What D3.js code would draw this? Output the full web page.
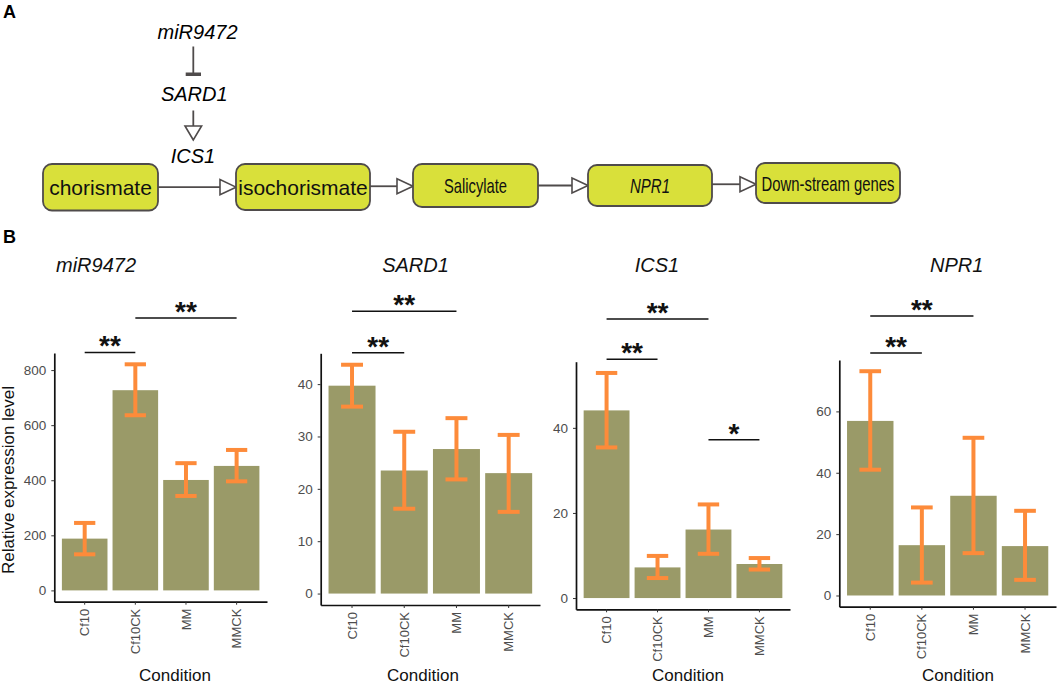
<!DOCTYPE html>
<html>
<head>
<meta charset="utf-8">
<script src="https://cdn.jsdelivr.net/npm/d3@7"></script>
<style>
  body { margin: 0; background: #fff; }
  text { font-family: "Liberation Sans", Arial, sans-serif; }
</style>
</head>
<body>
<svg id="fig" width="1059" height="686"></svg>
<script>
// ---------------------------------------------------------------- data
var conditions = ["Cf10", "Cf10CK", "MM", "MMCK"];

var miR9472Mean = [188, 727, 401, 452];
var miR9472Low  = [131, 636, 343, 396];
var miR9472High = [245, 821, 462, 510];
var miR9472Ticks = [0, 200, 400, 600, 800];

var sard1Mean = [39.7, 23.5, 27.6, 23.0];
var sard1Low  = [35.7, 16.2, 21.8, 15.6];
var sard1High = [43.7, 30.9, 33.5, 30.3];
var sard1Ticks = [0, 10, 20, 30, 40];

var ics1Mean = [44.1, 7.2, 16.1, 8.0];
var ics1Low  = [35.4, 4.7, 10.4, 6.7];
var ics1High = [52.9, 9.9, 22.0, 9.4];
var ics1Ticks = [0, 20, 40];

var npr1Mean = [56.9, 16.4, 32.5, 16.1];
var npr1Low  = [41.0, 4.2, 13.8, 5.1];
var npr1High = [73.1, 28.7, 51.4, 27.6];
var npr1Ticks = [0, 20, 40, 60];

// significance: [from, to, label, height in data units]
var miR9472Sig = [["Cf10", "Cf10CK", "**", 864], ["Cf10CK", "MMCK", "**", 989]];
var sard1Sig   = [["Cf10", "Cf10CK", "**", 46.0], ["Cf10", "MM", "**", 53.9]];
var ics1Sig    = [["Cf10", "Cf10CK", "**", 56.1], ["Cf10", "MM", "**", 65.6], ["MM", "MMCK", "*", 37.2]];
var npr1Sig    = [["Cf10", "Cf10CK", "**", 79.0], ["Cf10", "MM", "**", 91.1]];

var geneNames = ["miR9472", "SARD1", "ICS1", "NPR1"];

// pathway (panel A)
var regulatorChain = ["miR9472", "SARD1", "ICS1"];
var pathwaySteps = ["chorismate", "isochorismate", "Salicylate", "NPR1", "Down-stream genes"];

// ---------------------------------------------------------------- layout
var barColor = "#9a9a68";
var errColor = "#fd8b3a";
var boxColor = "#d9e03a";
var lineColor = "#4f4b4b";

var panelLayout = [
  {left: 54.3, right: 267, top: 353, bottom: 601.7, titleX: 96, labelX: 175},
  {left: 320.7, right: 540, top: 353.3, bottom: 605, titleX: 415.5, labelX: 423},
  {left: 576, right: 790, top: 361.7, bottom: 609.3, titleX: 657, labelX: 688},
  {left: 839.3, right: 1056, top: 360, bottom: 606.7, titleX: 956.7, labelX: 958}
];

var boxLayout = [
  {x0: 43, x1: 158, y0: 164, y1: 210.5, fit: null, italic: false},
  {x0: 236, x1: 370, y0: 164, y1: 210, fit: null, italic: false},
  {x0: 413, x1: 538, y0: 164, y1: 207, fit: 63, italic: false},
  {x0: 588, x1: 712, y0: 165, y1: 206, fit: 40, italic: true},
  {x0: 756, x1: 900, y0: 163, y1: 203, fit: 133, italic: false}
];

var svg = d3.select("#fig");

// ---------------------------------------------------------------- panel letters
svg.append("text").attr("x", 3).attr("y", 18).style("font-size", "18px").style("font-weight", "bold").text("A");
svg.append("text").attr("x", 3).attr("y", 243).style("font-size", "18px").style("font-weight", "bold").text("B");

// ---------------------------------------------------------------- panel A
var pa = svg.append("g");

// open arrow head, apex at (x, y), pointing "right" or "down"
function openHead(g, x, y, dir) {
  var pts;
  if (dir == "right") pts = [[x, y], [x - 16, y - 7.5], [x - 16, y + 7.5]];
  else pts = [[x, y], [x - 8.3, y - 14], [x + 8.3, y - 14]];
  g.append("path").attr("d", "M" + pts.join("L") + "Z")
    .attr("fill", "#fff").attr("stroke", lineColor).attr("stroke-width", 1.6);
}

pa.append("text").attr("x", 197.5).attr("y", 38.5).attr("text-anchor", "middle")
  .style("font-size", "20px").style("font-style", "italic").text(regulatorChain[0]);
pa.append("line").attr("x1", 193.3).attr("x2", 193.3).attr("y1", 46.5).attr("y2", 73)
  .attr("stroke", lineColor).attr("stroke-width", 1.8);
pa.append("rect").attr("x", 185.7).attr("y", 72.5).attr("width", 15.3).attr("height", 3.5).attr("fill", lineColor);

pa.append("text").attr("x", 194.3).attr("y", 101).attr("text-anchor", "middle")
  .style("font-size", "20px").style("font-style", "italic").text(regulatorChain[1]);
pa.append("line").attr("x1", 193.3).attr("x2", 193.3).attr("y1", 110.5).attr("y2", 126)
  .attr("stroke", lineColor).attr("stroke-width", 1.8);
openHead(pa, 193.3, 140, "down");

pa.append("text").attr("x", 193).attr("y", 163.3).attr("text-anchor", "middle")
  .style("font-size", "20px").style("font-style", "italic").text(regulatorChain[2]);

// connecting arrows between boxes
for (var i = 0; i < boxLayout.length - 1; i++) {
  var b0 = boxLayout[i], b1 = boxLayout[i + 1];
  var ya = ((b0.y0 + b0.y1) / 2 + (b1.y0 + b1.y1) / 2) / 2;
  pa.append("line").attr("x1", b0.x1).attr("x2", b1.x0 - 16).attr("y1", ya).attr("y2", ya)
    .attr("stroke", lineColor).attr("stroke-width", 1.8);
  openHead(pa, b1.x0, ya, "right");
}

var boxes = pa.selectAll("g.step").data(pathwaySteps).enter().append("g").attr("class", "step");
boxes.append("rect")
  .attr("x", function(d, i) { return boxLayout[i].x0; })
  .attr("y", function(d, i) { return boxLayout[i].y0; })
  .attr("width", function(d, i) { return boxLayout[i].x1 - boxLayout[i].x0; })
  .attr("height", function(d, i) { return boxLayout[i].y1 - boxLayout[i].y0; })
  .attr("rx", 9).attr("ry", 9)
  .attr("fill", boxColor).attr("stroke", lineColor).attr("stroke-width", 1.8);
boxes.append("text")
  .attr("x", function(d, i) { return (boxLayout[i].x0 + boxLayout[i].x1) / 2; })
  .attr("y", function(d, i) { return (boxLayout[i].y0 + boxLayout[i].y1) / 2 + 7.5; })
  .attr("text-anchor", "middle")
  .each(function(d, i) {
    if (boxLayout[i].fit) d3.select(this).attr("textLength", boxLayout[i].fit).attr("lengthAdjust", "spacingAndGlyphs");
  })
  .style("font-size", "21px")
  .style("font-style", function(d, i) { return boxLayout[i].italic ? "italic" : "normal"; })
  .style("fill", "#111")
  .text(function(d) { return d; });

// ---------------------------------------------------------------- panel B
function drawPanel(lay, gene, mean, low, high, ticks, sig, showYLabel) {
  var g = svg.append("g");

  var x = d3.scaleBand().domain(conditions).range([lay.left, lay.right])
    .paddingInner(0.1).paddingOuter(0.15);
  var maxV = d3.max(high);
  var pad = maxV * 0.05;
  var y = d3.scaleLinear().domain([-pad, maxV + pad]).range([lay.bottom, lay.top]);
  var bw = x.bandwidth();
  var capW = x.step() * 0.42;

  // bars
  g.selectAll("rect.bar").data(conditions).enter().append("rect").attr("class", "bar")
    .attr("x", function(d) { return x(d); })
    .attr("y", function(d, i) { return y(mean[i]); })
    .attr("width", bw)
    .attr("height", function(d, i) { return y(0) - y(mean[i]); })
    .attr("fill", barColor);

  // error bars
  var eb = g.selectAll("g.err").data(conditions).enter().append("g").attr("class", "err");
  eb.append("line")
    .attr("x1", function(d) { return x(d) + bw / 2; }).attr("x2", function(d) { return x(d) + bw / 2; })
    .attr("y1", function(d, i) { return y(low[i]); }).attr("y2", function(d, i) { return y(high[i]); })
    .attr("stroke", errColor).attr("stroke-width", 4);
  eb.append("line")
    .attr("x1", function(d) { return x(d) + bw / 2 - capW / 2; }).attr("x2", function(d) { return x(d) + bw / 2 + capW / 2; })
    .attr("y1", function(d, i) { return y(high[i]); }).attr("y2", function(d, i) { return y(high[i]); })
    .attr("stroke", errColor).attr("stroke-width", 4);
  eb.append("line")
    .attr("x1", function(d) { return x(d) + bw / 2 - capW / 2; }).attr("x2", function(d) { return x(d) + bw / 2 + capW / 2; })
    .attr("y1", function(d, i) { return y(low[i]); }).attr("y2", function(d, i) { return y(low[i]); })
    .attr("stroke", errColor).attr("stroke-width", 4);

  // axes
  var yAxis = g.append("g").attr("transform", "translate(" + lay.left + ",0)")
    .call(d3.axisLeft(y).tickValues(ticks).tickSize(3).tickSizeOuter(0).tickPadding(5));
  var xAxis = g.append("g").attr("transform", "translate(0," + lay.bottom + ")")
    .call(d3.axisBottom(x).tickSize(3).tickSizeOuter(0).tickPadding(4));
  [yAxis, xAxis].forEach(function(ax) {
    ax.select(".domain").attr("stroke", "#111").attr("stroke-width", 1.7);
    ax.selectAll(".tick line").attr("stroke", "#333").attr("stroke-width", 1);
    ax.selectAll(".tick text").attr("fill", "#4d4d4d").style("font-size", "13.5px")
      .style("font-family", "'Liberation Sans', Arial, sans-serif");
  });
  xAxis.selectAll(".tick text")
    .attr("transform", "rotate(-90)")
    .attr("x", -7).attr("y", 0).attr("dy", "0.35em")
    .style("text-anchor", "end").style("font-size", "13px");

  // significance brackets
  sig.forEach(function(s) {
    var xa = x(s[0]) + bw / 2, xb = x(s[1]) + bw / 2, yy = y(s[3]);
    g.append("line").attr("x1", xa).attr("x2", xb).attr("y1", yy).attr("y2", yy)
      .attr("stroke", "#111").attr("stroke-width", 1.5);
    g.append("text").attr("x", (xa + xb) / 2).attr("y", yy + 3).attr("text-anchor", "middle")
      .style("font-size", "28px").style("font-weight", "bold").style("fill", "#111").text(s[2]);
  });

  // titles
  g.append("text").attr("x", lay.titleX).attr("y", 272).attr("text-anchor", "middle")
    .style("font-size", "20px").style("font-style", "italic").style("fill", "#111").text(gene);
  g.append("text").attr("x", lay.labelX).attr("y", 681).attr("text-anchor", "middle")
    .style("font-size", "17px").style("fill", "#111").text("Condition");
  if (showYLabel) {
    g.append("text").attr("transform", "translate(14,480) rotate(-90)").attr("text-anchor", "middle")
      .style("font-size", "17px").style("fill", "#111").text("Relative expression level");
  }
}

drawPanel(panelLayout[0], geneNames[0], miR9472Mean, miR9472Low, miR9472High, miR9472Ticks, miR9472Sig, true);
drawPanel(panelLayout[1], geneNames[1], sard1Mean, sard1Low, sard1High, sard1Ticks, sard1Sig, false);
drawPanel(panelLayout[2], geneNames[2], ics1Mean, ics1Low, ics1High, ics1Ticks, ics1Sig, false);
drawPanel(panelLayout[3], geneNames[3], npr1Mean, npr1Low, npr1High, npr1Ticks, npr1Sig, false);
</script>
</body>
</html>
